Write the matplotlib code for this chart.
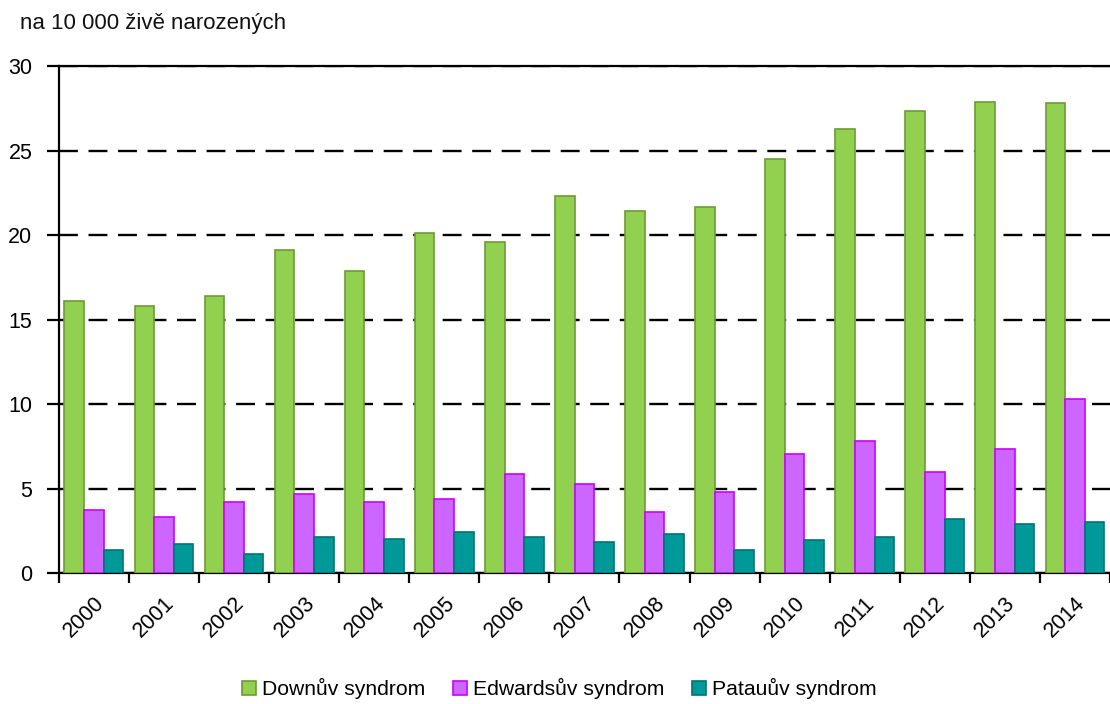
import matplotlib
matplotlib.use("Agg")
import matplotlib.pyplot as plt
import numpy as np

plt.rcParams['font.family'] = ['Liberation Sans', 'DejaVu Sans']

years = ['2000', '2001', '2002', '2003', '2004', '2005', '2006', '2007',
         '2008', '2009', '2010', '2011', '2012', '2013', '2014']
down = [16.1, 15.8, 16.4, 19.1, 17.9, 20.15, 19.6, 22.3, 21.4, 21.65, 24.5, 26.3, 27.35, 27.9, 27.8]
edwards = [3.75, 3.33, 4.2, 4.65, 4.2, 4.36, 5.84, 5.25, 3.6, 4.8, 7.04, 7.79, 5.99, 7.34, 10.3]
patau = [1.38, 1.7, 1.1, 2.15, 2.0, 2.43, 2.15, 1.82, 2.29, 1.38, 1.97, 2.13, 3.18, 2.88, 3.04]
series_names = ['Downův syndrom', 'Edwardsův syndrom', 'Patauův syndrom']
y_title = 'na 10 000 živě narozených'

fig = plt.figure(figsize=(11.1, 7.04), dpi=100)
ax = fig.add_axes([0.053, 0.186, 0.947, 0.72])

x = np.arange(len(years))
w = 0.28
styles = [('#92D050', '#6E9A35'), ('#CC66FF', '#CC00FF'), ('#009999', '#007373')]
for i, (vals, name) in enumerate(zip([down, edwards, patau], series_names)):
    fc, ec = styles[i]
    ax.bar(x + (i - 1) * w, vals, width=w, color=fc, edgecolor=ec, linewidth=1.2,
           label=name, zorder=3)

ax.set_xlim(-0.5, len(years) - 0.5)
ax.set_ylim(0, 30)
ax.set_yticks(range(0, 31, 5))
ax.yaxis.grid(True, linestyle=(0, (8, 4.5)), color='black', linewidth=1.7, zorder=1)
ax.set_axisbelow(True)

ax.set_xticks(x)
ax.set_xticklabels(years, rotation=45, ha='right', rotation_mode='anchor', fontsize=15.5)
ax.set_xticks(np.arange(-0.5, len(years), 1), minor=True)
ax.tick_params(axis='x', which='major', length=0, pad=14)
ax.tick_params(axis='x', which='minor', length=7, width=1.6, direction='out')
ax.tick_params(axis='y', length=9, width=1.6, direction='out', labelsize=15.5, pad=10)

ax.spines['right'].set_visible(False)
for s in ['left', 'bottom', 'top']:
    ax.spines[s].set_linewidth(1.6)

fig.text(0.018, 0.967, y_title, fontsize=16, ha='left', va='center', color='#111111')

leg = fig.legend(loc='center', bbox_to_anchor=(0.504, 0.022), ncol=3, frameon=False,
                 fontsize=15.2, handlelength=0.65, handleheight=0.65, handletextpad=0.3,
                 columnspacing=1.3)

fig.savefig('out.png', dpi=100)
